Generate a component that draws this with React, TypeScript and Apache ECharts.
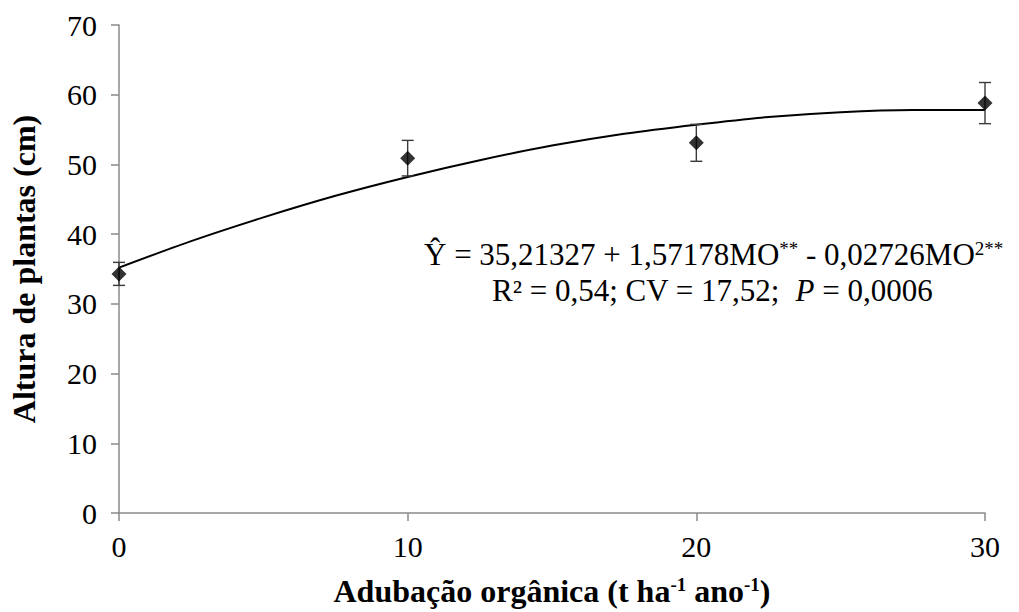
import React, { useEffect, useRef } from "react";
import * as echarts from "echarts";

// Observed means and error bars
const doses = [0, 10, 20, 30];
const means = [34.3, 50.9, 53.1, 58.8];
const errors = [1.65, 2.55, 2.65, 2.95];

// Fitted curve values
const curveX = [0, 2.5, 5, 7.5, 10, 12.5, 15, 17.5, 20, 22.5, 25, 27.5, 30];
const curveY = [35.2, 39.0, 42.4, 45.5, 48.2, 50.6, 52.7, 54.4, 55.7, 56.8, 57.5, 57.8, 57.8];

const yTicks = [0, 10, 20, 30, 40, 50, 60, 70];
const xTicks = [0, 10, 20, 30];

const FONT = "Liberation Serif, Times New Roman, serif";

export default function App() {
  const ref = useRef<HTMLDivElement>(null);
  useEffect(() => {
    if (!ref.current) return;
    const chart = echarts.init(ref.current, null, { renderer: "svg" });
    const errData = doses.map((d, i) => [d, means[i] - errors[i], means[i] + errors[i]]);
    chart.setOption({
      animation: false,
      backgroundColor: "#ffffff",
      textStyle: { fontFamily: FONT },
      grid: { left: 117, right: 34, top: 25, bottom: 99 },
      xAxis: {
        type: "value",
        min: xTicks[0],
        max: xTicks[xTicks.length - 1],
        interval: 10,
        name: "{b|Adubação orgânica (t ha}{s|-1}{b| ano}{s|-1}{b|)}",
        nameLocation: "middle",
        nameGap: 62,
        nameTextStyle: {
          fontFamily: FONT,
          rich: {
            b: { fontFamily: FONT, fontWeight: "bold", fontSize: 32, color: "#000" },
            s: { fontFamily: FONT, fontWeight: "bold", fontSize: 19, color: "#000", verticalAlign: "top" },
          },
        },
        axisLine: { lineStyle: { color: "#8a8a8a", width: 1.5 } },
        axisTick: { show: true, length: 8, lineStyle: { color: "#8a8a8a", width: 1.5 } },
        axisLabel: { fontFamily: FONT, fontSize: 30, color: "#000", margin: 18 },
        splitLine: { show: false },
      },
      yAxis: {
        type: "value",
        min: yTicks[0],
        max: yTicks[yTicks.length - 1],
        interval: 10,
        name: "Altura de plantas (cm)",
        nameLocation: "middle",
        nameRotate: 90,
        nameGap: 79,
        nameTextStyle: { fontFamily: FONT, fontWeight: "bold", fontSize: 32, color: "#000" },
        axisLine: { show: true, lineStyle: { color: "#8a8a8a", width: 1.5 } },
        axisTick: { show: true, length: 8, lineStyle: { color: "#8a8a8a", width: 1.5 } },
        axisLabel: { fontFamily: FONT, fontSize: 30, color: "#000", margin: 22 },
        splitLine: { show: false },
      },
      series: [
        {
          type: "line",
          data: curveX.map((x, i) => [x, curveY[i]]),
          smooth: 0.3,
          showSymbol: false,
          symbol: "none",
          lineStyle: { color: "#000", width: 2 },
          z: 2,
        },
        {
          type: "custom",
          data: errData,
          z: 3,
          renderItem: (params: any, api: any) => {
            const x = api.value(0);
            const lo = api.coord([x, api.value(1)]);
            const hi = api.coord([x, api.value(2)]);
            const cap = 6;
            const style = { stroke: "#3a3a3a", lineWidth: 1.4 };
            return {
              type: "group",
              children: [
                { type: "line", shape: { x1: lo[0], y1: lo[1], x2: hi[0], y2: hi[1] }, style },
                { type: "line", shape: { x1: hi[0] - cap, y1: hi[1], x2: hi[0] + cap, y2: hi[1] }, style },
                { type: "line", shape: { x1: lo[0] - cap, y1: lo[1], x2: lo[0] + cap, y2: lo[1] }, style },
              ],
            };
          },
        },
        {
          type: "scatter",
          data: doses.map((d, i) => [d, means[i]]),
          symbol: "diamond",
          symbolSize: 15,
          itemStyle: { color: "#000" },
          z: 4,
        },
      ],
      graphic: [
        {
          type: "text",
          left: 424,
          top: 239,
          style: {
            text: "{n|Ŷ = 35,21327 + 1,57178MO}{s|**}{n| - 0,02726MO}{s|2**}",
            fontFamily: FONT,
            rich: {
              n: { fontFamily: FONT, fontSize: 31, fill: "#000" },
              s: { fontFamily: FONT, fontSize: 19, fill: "#000", verticalAlign: "top" },
            },
          },
        },
        {
          type: "text",
          left: 492,
          top: 275,
          style: {
            text: "{n|R² = 0,54; CV = 17,52;  }{i|P}{n| = 0,0006}",
            fontFamily: FONT,
            rich: {
              n: { fontFamily: FONT, fontSize: 31, fill: "#000" },
              i: { fontFamily: FONT, fontSize: 31, fontStyle: "italic", fill: "#000" },
            },
          },
        },
      ],
    });
    return () => chart.dispose();
  }, []);
  return <div ref={ref} style={{ width: 1019, height: 612, position: "absolute", left: 0, top: 0 }} />;
}
